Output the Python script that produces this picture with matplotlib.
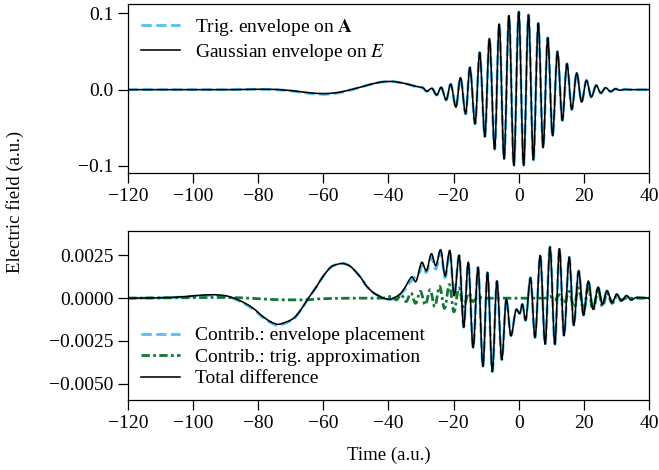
import matplotlib
matplotlib.use("Agg")
import matplotlib.pyplot as plt
from matplotlib.ticker import FuncFormatter, FixedLocator
from matplotlib.path import Path
from matplotlib.patches import PathPatch
from matplotlib.lines import Line2D

# ---------------- data ----------------
# Top panel: electric field, Gaussian envelope on E (black)
t_gauss = [-120, -100, -90, -85, -80, -76, -72, -68, -64, -60, -56, -52, -48, -44, -41, -39, -36, -33, -31,
           -29.6, -28.2, -26.7, -25.2, -23.8, -22.3, -20.9, -19.3, -17.9, -16.3, -15.0, -13.4, -12.0,
           -10.4, -9.0, -7.4, -6.0, -4.5, -3.0, -1.5, 0.0, 1.5, 3.0, 4.5, 6.0, 7.5, 8.9, 10.4, 11.9,
           13.4, 14.8, 16.3, 17.8, 19.3, 20.8, 22.3, 23.8, 25.2, 26.7, 28.2, 29.7, 31.1, 32.6, 34, 40]
E_gauss = [0, 0, 0.0, 0.0002, 0.0005, 0.0004, -0.0005, -0.0022, -0.0042, -0.0052, -0.0040, -0.0005,
           0.0040, 0.0085, 0.0105, 0.0107, 0.0090, 0.0060, 0.0038,
           0.0028, -0.0020, 0.0018, -0.0070, 0.0030, -0.0135, 0.0072, -0.0229, 0.0158, -0.0316, 0.029,
           -0.0448, 0.0487, -0.0615, 0.067, -0.078, 0.086, -0.091, 0.097, -0.0996, 0.102, -0.0996,
           0.098, -0.092, 0.087, -0.076, 0.068, -0.0605, 0.050, -0.0404, 0.034, -0.026, 0.022,
           -0.0163, 0.0122, -0.0097, 0.0057, -0.0045, 0.0026, -0.0025, 0.0010, -0.0008, 0.0003, 0, 0]

# Top panel: trig envelope on A (blue dashed)
t_trig = [-120, -100, -90, -85, -80, -76, -72, -68, -64, -60, -56, -52, -48, -44, -41, -39, -36, -33, -31,
          -29.6, -28.2, -26.7, -25.2, -23.8, -22.3, -20.9, -19.3, -17.9, -16.3, -15.0, -13.4, -12.0,
          -10.4, -9.0, -7.4, -6.0, -4.5, -3.0, -1.5, 0.0, 1.5, 3.0, 4.5, 6.0, 7.5, 8.9, 10.4, 11.9,
          13.4, 14.8, 16.3, 17.8, 19.3, 20.8, 22.3, 23.8, 25.2, 26.7, 28.2, 29.7, 31.1, 32.6, 34, 40]
E_trig = [0, 0, 0.0, 0.0002, 0.0004, 0.0002, -0.0008, -0.0027, -0.0050, -0.0062, -0.0046, -0.0008,
          0.0038, 0.0084, 0.0105, 0.0106, 0.0088, 0.0057, 0.0034,
          0.0026, -0.0024, 0.0016, -0.0072, 0.0028, -0.0137, 0.0070, -0.0231, 0.0157, -0.0318, 0.029,
          -0.0449, 0.0487, -0.0616, 0.067, -0.078, 0.086, -0.091, 0.097, -0.0996, 0.102, -0.0996,
          0.098, -0.092, 0.087, -0.076, 0.068, -0.0605, 0.050, -0.0404, 0.034, -0.026, 0.022,
          -0.0163, 0.0122, -0.0097, 0.0057, -0.0045, 0.0026, -0.0025, 0.0010, -0.0008, 0.0003, 0, 0]

# Bottom panel: total difference (black)
t_total = [-120, -110, -102, -97, -93.8, -90, -87.5, -84, -81.5, -78.4, -76, -73.9, -71.5, -69.3, -67,
           -64.6, -62, -60, -57, -54.1, -52, -50.8, -48.5, -46.7, -44.5, -42.6, -41, -39.6, -38, -36.5,
           -35, -33.5, -32.8, -31.7, -29.7, -28.4, -26.8, -25.5, -24.0, -22.6, -21.2, -19.8, -18.3,
           -16.9, -15.5, -14.0, -12.5, -11.0, -9.6, -8.1, -6.7, -5.2, -3.8, -2.4, -0.7, 0.3, 1.1, 2.1,
           3.6, 5.0, 6.6, 8.1, 9.6, 11.1, 12.5, 13.9, 15.5, 16.9, 18.4, 19.9, 21.4, 22.8, 24.4, 25.7,
           27.1, 28.7, 30.1, 31.5, 33.1, 34.6, 36.1, 40]
d_total = [0, 0.00002, 0.0001, 0.00018, 0.0002, 0.00014, 0.0, -0.0003, -0.0006, -0.0011, -0.0014,
           -0.00153, -0.0014, -0.0012, -0.0007, 0.0, 0.0007, 0.0013, 0.0019, 0.00203, 0.0019, 0.0017,
           0.0012, 0.0007, 0.0003, 0.0001, -0.00003, -0.00006, 0.00005, 0.00023, 0.0006, 0.0011,
           0.00125, 0.00096, 0.0021, 0.0016, 0.0026, 0.0019, 0.00284, 0.0013, 0.0028, 0.00014, 0.0025,
           -0.0017, 0.0021, -0.0029, 0.0018, -0.0040, 0.0015, -0.0043, 0.0010, -0.0036, -0.00006,
           -0.0022, -0.00065, -0.0009, -0.00035, -0.0013, 0.0012, -0.0023, 0.0025, -0.0027, 0.0030,
           -0.0027, 0.0029, -0.0022, 0.0024, -0.0016, 0.0016, -0.0010, 0.0010, -0.00065, 0.00063,
           -0.00035, 0.00043, -0.00025, 0.00023, -0.00016, 0.00014, -0.0001, 0.00004, 0]

# Bottom panel: contribution of envelope placement (blue dashed)
t_env = [-120, -110, -102, -97, -93.8, -90, -87.5, -84, -81.5, -78.4, -76, -73.9, -71.5, -69.3, -67,
         -64.6, -62, -60, -57, -54.1, -52, -50.8, -48.5, -46.7, -44.5, -42.6, -41, -39.6, -38, -36.5,
         -35, -33.5, -32.0, -30.5, -29.7, -28.4, -26.8, -25.5, -24.0, -22.6, -21.2, -19.8, -18.3,
         -16.9, -15.5, -14.0, -12.5, -11.0, -9.6, -8.1, -6.7, -5.2, -3.8, -2.4, -0.7, 0.3, 1.1, 2.1,
         3.6, 5.0, 6.6, 8.1, 9.6, 11.1, 12.5, 13.9, 15.5, 16.9, 18.4, 19.9, 21.4, 22.8, 24.4, 25.7,
         27.1, 28.7, 30.1, 31.5, 33.1, 34.6, 36.1, 40]
d_env = [0, 0.00002, 0.00008, 0.00015, 0.00017, 0.0001, -0.00003, -0.00035, -0.00065, -0.00115, -0.00145,
         -0.0016, -0.00145, -0.00125, -0.00072, 0.0, 0.0007, 0.0013, 0.0019, 0.00203, 0.0019, 0.0017,
         0.0012, 0.0007, 0.0003, 0.0001, -0.00003, -0.00008, 0.0, 0.0002, 0.0005, 0.0009,
         0.0012, 0.0015, 0.0019, 0.0015, 0.0024, 0.0017, 0.0027, 0.0012, 0.0027, 0.0002, 0.0025,
         -0.0017, 0.0021, -0.0029, 0.0018, -0.0040, 0.0015, -0.0043, 0.0010, -0.0036, -0.00006,
         -0.0022, -0.00065, -0.0009, -0.00035, -0.0013, 0.0012, -0.0023, 0.0025, -0.0027, 0.0030,
         -0.0027, 0.0029, -0.0022, 0.0024, -0.0016, 0.0016, -0.0010, 0.0010, -0.00065, 0.00063,
         -0.00035, 0.00043, -0.00025, 0.00023, -0.00016, 0.00014, -0.0001, 0.00004, 0]

# Bottom panel: contribution of the trig approximation (green dash-dot)
t_trigapx = [-120, -100, -90, -80, -72, -66, -60, -50, -42, -39, -37.6, -36.1, -34.6, -33.1, -31.7,
             -30.2, -28.7, -27.2, -25.8, -24.3, -22.8, -21.3, -19.9, -18.4, -16.9, -15.4, -14.0, -12.5,
             -11, 0, 8, 9.6, 11.1, 12.5, 13.9, 15.5, 16.9, 18.4, 19.9, 21.4, 22.8, 24.4, 25.7, 27.1,
             28.7, 30.1, 31.5, 33, 40]
d_trigapx = [0, 0.00003, 0.00004, -0.00003, -0.0001, -0.0001, -0.00003, 0, 0, 0.0001, -0.0001, 0.0002,
             -0.0002, 0.0003, -0.0003, 0.0004, -0.0004, 0.0005, -0.0005, 0.0007, -0.0006, 0.0008,
             -0.0008, 0.0006, -0.0005, 0.0003, -0.0002, 0.0001, 0, 0, 0, 0.0001, -0.0001, 0.0002,
             -0.0003, 0.0004, -0.0005, 0.0006, -0.0007, 0.0006, -0.0007, 0.0005, -0.0005, 0.0003,
             -0.0003, 0.0001, -0.0001, 0, 0]

x_ticks = [-120, -100, -80, -60, -40, -20, 0, 20, 40]
top_yticks = [-0.1, 0.0, 0.1]
bot_yticks = [-0.005, -0.0025, 0.0, 0.0025]

labels_top = [r"Trig. envelope on $\mathbf{A}$", r"Gaussian envelope on $E$"]
labels_bot = ["Contrib.: envelope placement", "Contrib.: trig. approximation", "Total difference"]

# ---------------- style ----------------
plt.rcParams['font.family'] = ['Liberation Serif', 'DejaVu Serif']
plt.rcParams['mathtext.fontset'] = 'stix'
plt.rcParams['font.size'] = 14
plt.rcParams['axes.linewidth'] = 0.9
plt.rcParams['xtick.major.size'] = 7
plt.rcParams['ytick.major.size'] = 7
plt.rcParams['xtick.major.width'] = 0.9
plt.rcParams['ytick.major.width'] = 0.9
plt.rcParams['axes.unicode_minus'] = True

BLUE = '#52C0F2'
GREEN = '#117733'
DASHDOT = (0, (3, 1.2, 1, 1.2))
LW_BLUE = 2.0
LW_BLACK = 1.15
LW_GREEN = 2.0


def smooth_line(ax, xs, ys, **style):
    """Draw a smooth curve (cubic Bezier segments) through the given points."""
    n = len(xs)
    h = [xs[k + 1] - xs[k] for k in range(n - 1)]
    d = [(ys[k + 1] - ys[k]) / h[k] for k in range(n - 1)]
    m = [0.0] * n
    m[0], m[-1] = d[0], d[-1]
    for k in range(1, n - 1):
        if d[k - 1] * d[k] <= 0:
            m[k] = 0.0
        else:
            w1 = 2 * h[k] + h[k - 1]
            w2 = h[k] + 2 * h[k - 1]
            m[k] = (w1 + w2) / (w1 / d[k - 1] + w2 / d[k])
    verts = [(xs[0], ys[0])]
    codes = [Path.MOVETO]
    for k in range(n - 1):
        verts += [(xs[k] + h[k] / 3, ys[k] + m[k] * h[k] / 3),
                  (xs[k + 1] - h[k] / 3, ys[k + 1] - m[k + 1] * h[k] / 3),
                  (xs[k + 1], ys[k + 1])]
        codes += [Path.CURVE4] * 3
    patch = PathPatch(Path(verts, codes), fill=False, joinstyle='round', capstyle='butt', **style)
    ax.add_patch(patch)
    return patch


fig = plt.figure(figsize=(6.59, 4.70), dpi=100)
ax1 = fig.add_axes([0.1942, 0.6319, 0.7906, 0.3596])
ax2 = fig.add_axes([0.1942, 0.1489, 0.7906, 0.3596])

st_blue = dict(color=BLUE, lw=LW_BLUE, ls='--')
st_black = dict(color='black', lw=LW_BLACK, ls='-')
st_green = dict(color=GREEN, lw=LW_GREEN, ls=DASHDOT)

smooth_line(ax1, t_trig, E_trig, edgecolor=BLUE, linewidth=LW_BLUE, linestyle='--')
smooth_line(ax1, t_gauss, E_gauss, edgecolor='black', linewidth=LW_BLACK, linestyle='-')

smooth_line(ax2, t_env, d_env, edgecolor=BLUE, linewidth=LW_BLUE, linestyle='--')
smooth_line(ax2, t_trigapx, d_trigapx, edgecolor=GREEN, linewidth=LW_GREEN, linestyle=DASHDOT)
smooth_line(ax2, t_total, d_total, edgecolor='black', linewidth=LW_BLACK, linestyle='-')


def minus_fmt(fmt):
    return FuncFormatter(lambda v, p: (fmt % v).replace('-', '\u2212'))


for ax in (ax1, ax2):
    ax.set_xlim(-120, 40)
    ax.xaxis.set_major_locator(FixedLocator(x_ticks))
    ax.xaxis.set_major_formatter(minus_fmt('%d'))

ax1.set_ylim(-0.1092, 0.1122)
ax1.yaxis.set_major_locator(FixedLocator(top_yticks))
ax1.yaxis.set_major_formatter(minus_fmt('%.1f'))

ax2.set_ylim(-0.00596, 0.00393)
ax2.yaxis.set_major_locator(FixedLocator(bot_yticks))
ax2.yaxis.set_major_formatter(minus_fmt('%.4f'))

h_top = [Line2D([], [], **st_blue), Line2D([], [], **st_black)]
h_bot = [Line2D([], [], **st_blue), Line2D([], [], **st_green), Line2D([], [], **st_black)]

ax1.legend(h_top, labels_top, loc='upper left', frameon=False, handlelength=2.0, handletextpad=0.8,
           borderaxespad=0.25, labelspacing=0.2, fontsize=14)
ax2.legend(h_bot, labels_bot, loc='lower left', frameon=False, handlelength=2.0, handletextpad=0.8,
           borderaxespad=0.25, labelspacing=0.2, fontsize=14)

ax2.set_xlabel("Time (a.u.)", fontsize=13.5, labelpad=11)
fig.text(15 / 659, 1 - 202 / 470, "Electric field (a.u.)", rotation=90, ha='center', va='center',
         fontsize=13.5)

fig.savefig("out.png", dpi=100)
